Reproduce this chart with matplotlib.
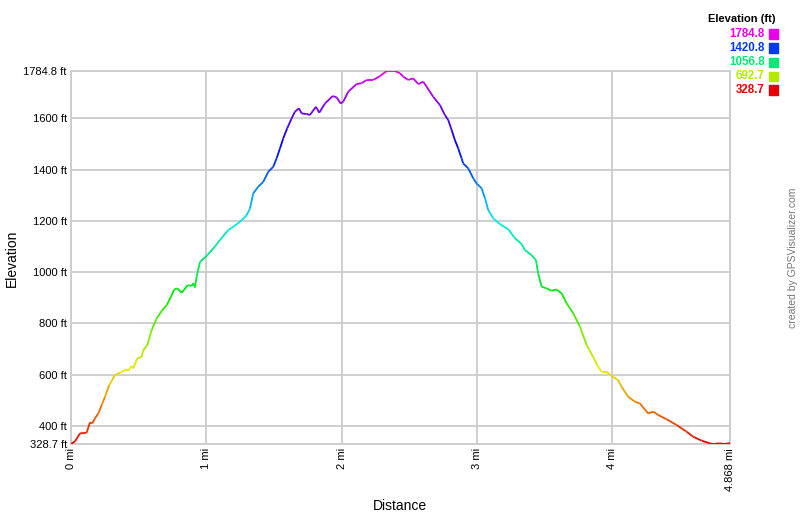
import numpy as np
import matplotlib
matplotlib.use('Agg')
import matplotlib.pyplot as plt
from matplotlib.collections import LineCollection
from matplotlib.colors import hsv_to_rgb

plt.rcParams['font.family'] = ['Liberation Sans', 'DejaVu Sans']

# track profile
dist = [0.000, 0.030, 0.066, 0.116, 0.140, 0.157, 0.177, 0.202, 0.227, 0.251,
        0.283, 0.325, 0.362, 0.411, 0.423, 0.448, 0.460, 0.490, 0.522, 0.534,
        0.564, 0.596, 0.633, 0.670, 0.707, 0.744, 0.763, 0.785, 0.818, 0.862,
        0.891, 0.903, 0.916, 0.928, 0.953, 1.002, 1.064, 1.100, 1.162, 1.199,
        1.248, 1.298, 1.322, 1.346, 1.383, 1.420, 1.457, 1.494, 1.519, 1.544,
        1.568, 1.597, 1.630, 1.654, 1.684, 1.704, 1.741, 1.765, 1.809, 1.834,
        1.876, 1.933, 1.962, 1.992, 2.011, 2.048, 2.110, 2.147, 2.184, 2.233,
        2.282, 2.332, 2.393, 2.430, 2.454, 2.491, 2.528, 2.565, 2.602, 2.627,
        2.676, 2.725, 2.762, 2.787, 2.812, 2.836, 2.860, 2.885, 2.897, 2.934,
        2.971, 2.996, 3.033, 3.058, 3.082, 3.119, 3.168, 3.230, 3.279, 3.329,
        3.353, 3.402, 3.434, 3.451, 3.476, 3.513, 3.550, 3.587, 3.624, 3.661,
        3.710, 3.759, 3.809, 3.857, 3.894, 3.919, 3.956, 3.993, 4.042, 4.067,
        4.116, 4.165, 4.202, 4.264, 4.301, 4.338, 4.400, 4.473, 4.547, 4.596,
        4.658, 4.719, 4.744, 4.793, 4.830, 4.868]
elev = [328.7, 339, 370, 373, 413, 409, 429, 448, 481, 513,
        559, 598, 607, 620, 615, 633, 624, 663, 669, 695,
        715, 774, 819, 848, 871, 910, 932, 936, 919, 949,
        946, 956, 940, 982, 1040, 1063, 1100, 1125, 1164, 1177,
        1196, 1222, 1248, 1307, 1333, 1352, 1391, 1411, 1444, 1483,
        1522, 1561, 1600, 1626, 1639, 1619, 1617, 1613, 1645, 1622,
        1658, 1687, 1682, 1658, 1665, 1704, 1734, 1737, 1750, 1750,
        1765, 1784.8, 1784.8, 1776, 1763, 1750, 1756, 1734, 1743, 1723,
        1684, 1652, 1613, 1593, 1554, 1515, 1483, 1444, 1424, 1405,
        1366, 1346, 1327, 1288, 1242, 1210, 1187, 1167, 1132, 1109,
        1086, 1066, 1047, 995, 943, 936, 927, 932, 917, 878,
        839, 787, 715, 669, 630, 611, 611, 594, 578, 552,
        513, 494, 487, 448, 455, 442, 425, 403, 377, 357,
        342, 331, 328.7, 331, 329, 332]

y_min, y_max = 328.7, 1784.8
x_max = 4.868
y_ticks = [400, 600, 800, 1000, 1200, 1400, 1600]
x_ticks = [0, 1, 2, 3, 4]
legend_vals = [1784.8, 1420.8, 1056.8, 692.7, 328.7]


def elev_color(v):
    f = (v - y_min) / (y_max - y_min)
    return hsv_to_rgb([f * 300 / 360, 1.0, 0.92])


fig = plt.figure(figsize=(8, 5.17), dpi=100)
ax = fig.add_axes([71 / 800, 73 / 517, 659 / 800, 373 / 517])

x = np.array(dist)
y = np.array(elev)
pts = np.column_stack([x, y]).reshape(-1, 1, 2)
segs = np.concatenate([pts[:-1], pts[1:]], axis=1)
cols = [elev_color((a + b) / 2) for a, b in zip(y[:-1], y[1:])]
lc = LineCollection(segs, colors=cols, linewidth=1.3, zorder=3)
ax.add_collection(lc)

ax.set_xlim(0, x_max)
ax.set_ylim(y_min, y_max)

yt = [y_min] + y_ticks + [y_max]
ax.set_yticks(yt)
ax.set_yticklabels([f'{v:g} ft' for v in yt], fontsize=8)
xt = x_ticks + [x_max]
ax.set_xticks(xt)
ax.set_xticklabels([f'{v:g} mi' for v in xt], fontsize=8, rotation=90)
ax.tick_params(length=0, pad=3)
ax.grid(True, color='#cccccc', linewidth=1.3)
for s in ax.spines.values():
    s.set_color('#cccccc')
    s.set_linewidth(1.3)

fig.text(400 / 800, 1 - 506 / 517, 'Distance', fontsize=10, ha='center', va='center')
fig.text(12 / 800, 1 - 258 / 517, 'Elevation', fontsize=10, rotation=90,
         ha='center', va='center')

# colour key in the corner
fig.text(775 / 800, 1 - 19 / 517, 'Elevation (ft)', fontsize=8, fontweight='bold',
         ha='right', va='center')
for i, v in enumerate(legend_vals):
    yy = 1 - (34 + i * 14) / 517
    c = elev_color(v)
    fig.text(765 / 800, yy, f'{v:.1f}', fontsize=8.3, fontweight='bold',
             color=c, ha='right', va='center')
    fig.patches.append(plt.Rectangle((769 / 800, yy - 4.5 / 517), 9 / 800, 9 / 517,
                                     transform=fig.transFigure, color=c))

fig.text(793 / 800, 1 - 258 / 517, 'created by GPSVisualizer.com', fontsize=7.5,
         color='#777777', rotation=90, ha='center', va='center')

fig.savefig('out.png', dpi=100)
